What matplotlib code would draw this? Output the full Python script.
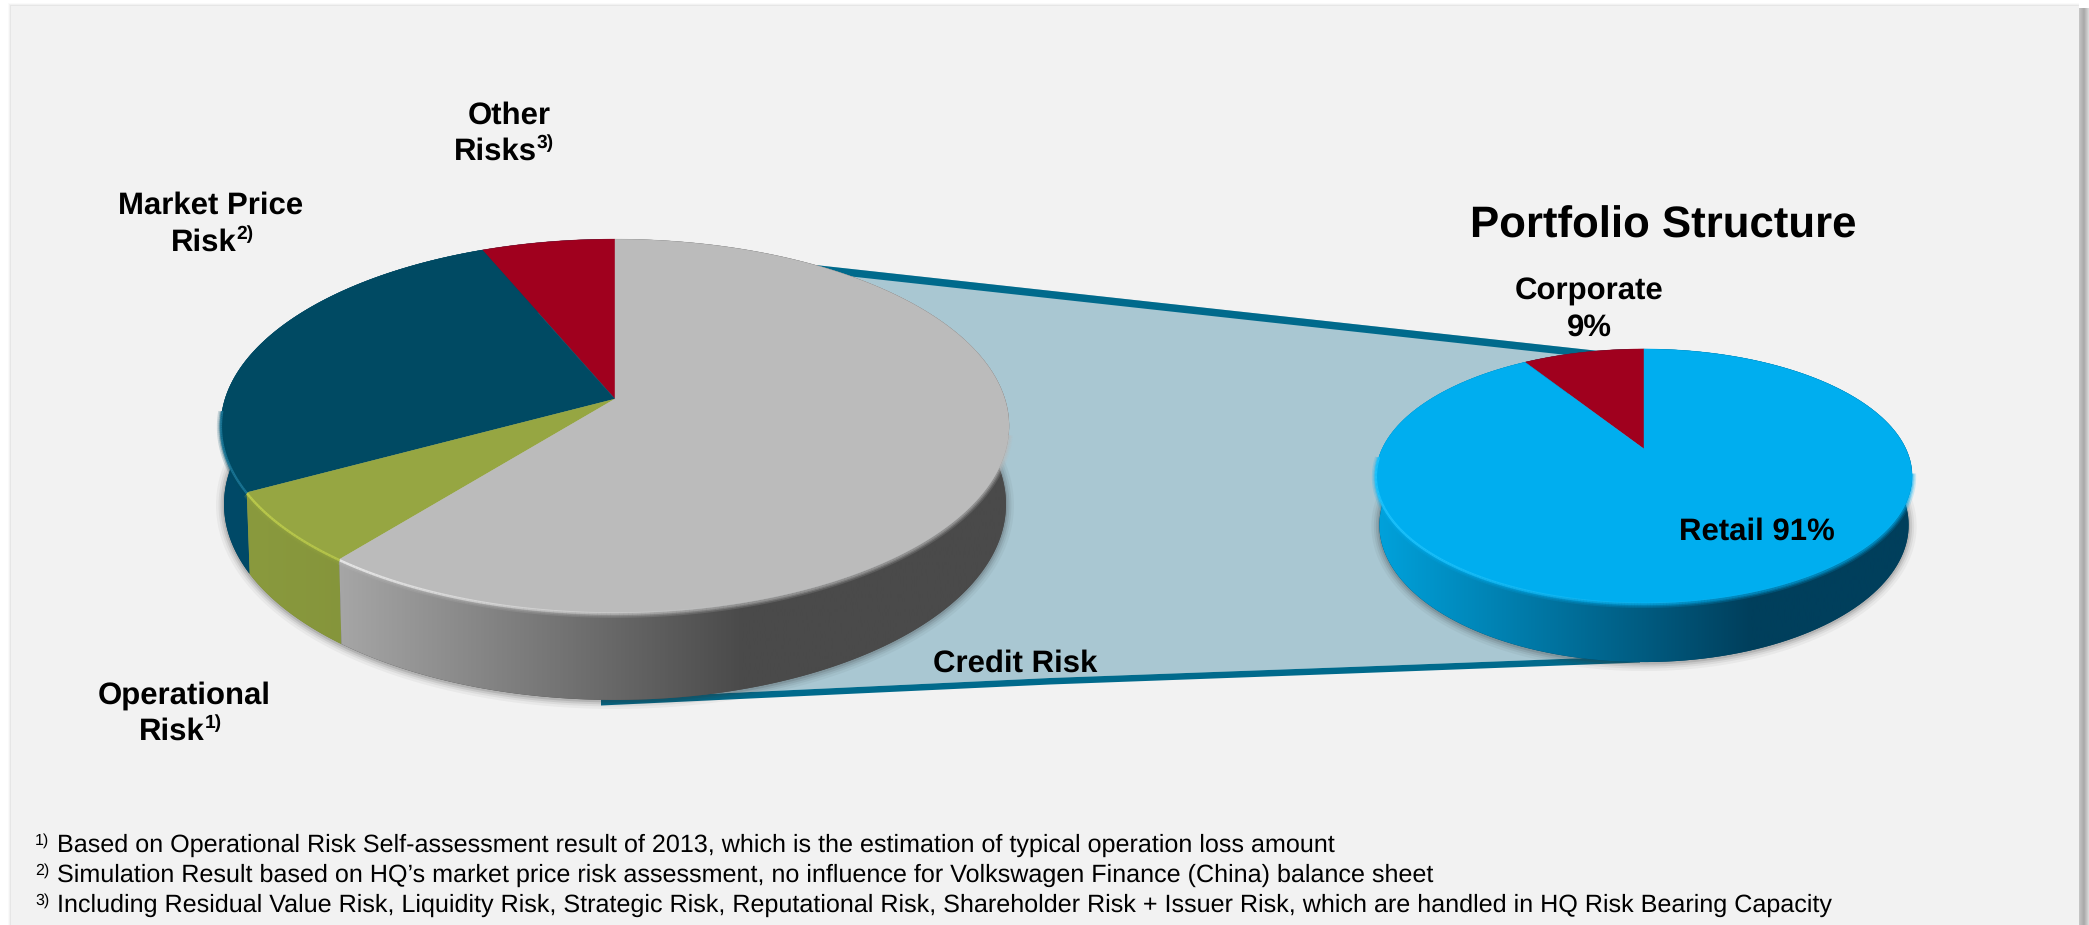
import numpy as np
import matplotlib
matplotlib.use('Agg')
import matplotlib.pyplot as plt
from matplotlib.collections import LineCollection
from matplotlib.colors import LinearSegmentedColormap, to_rgb
from matplotlib.patches import Polygon, Rectangle

plt.rcParams['font.family'] = ['Liberation Sans', 'DejaVu Sans']
plt.rcParams['text.hinting'] = 'none'

# values, share of the pie
# slices start at 12 o'clock and run counter clockwise
risk_names = ['Other Risks', 'Market Price Risk', 'Operational Risk', 'Credit Risk']
risk_shares = [6.3, 26.6, 6.3, 60.8]
risk_top = ['#A0001E', '#004A63', '#96A642', '#BBBBBB']
risk_side = [['#003F5A', '#003F5A'], ['#004A68', '#003A55'], ['#8A9A3E', '#748231'],
             ['#A6A6A6', '#4A4A4A']]

port_names = ['Corporate', 'Retail']
port_shares = [9, 91]
port_top = ['#A0001E', '#00AEEF']
port_side = [['#003F5A', '#003F5A'], ['#00A2DC', '#003F5C']]

footnotes = ['Based on Operational Risk Self-assessment result of 2013, which is the estimation of typical operation loss amount',
             'Simulation Result based on HQ\u2019s market price risk assessment, no influence for Volkswagen Finance (China) balance sheet',
             'Including Residual Value Risk, Liquidity Risk, Strategic Risk, Reputational Risk, Shareholder Risk + Issuer Risk, which are handled in HQ Risk Bearing Capacity']

W, H = 2089, 925
BG = '#F2F2F2'

fig = plt.figure(figsize=(W/100, H/100), dpi=100, facecolor='white')
ax = fig.add_axes([0, 0, 1, 1])
ax.axis('off')

# grey panel with soft edge, it stops short of the right side
for i, a in enumerate([0.04, 0.06, 0.10]):
    ax.add_patch(Rectangle((8+i, 3+i), 2079-8-i, H, fc='#808080', ec='none', alpha=a, zorder=0))
ax.add_patch(Rectangle((11, 6), 2079-11, H, fc=BG, ec='none', zorder=0.5))
# shadow strip on the right edge
strip = LinearSegmentedColormap.from_list('strip', ['#C4C4C4', '#A8A8A8', '#D8D8D8'])
ax.imshow(np.linspace(0, 1, 10)[None, :], extent=[2079, W, H, 8], cmap=strip, aspect='auto', zorder=0.4)


def rim(frac, cx, cy, rx0, ry0, k, sx=1.0, sy=1.0, dy=0.0):
    # circle seen in perspective, frac 0 is 12 o'clock, going counter clockwise
    t = 2*np.pi*np.asarray(frac)
    u = -np.sin(t)
    v = np.cos(t)
    w = 1 + k*v
    return cx + sx*rx0*u/w, cy + dy - sy*ry0*v/w


def rim_band(x, y, colors, alphas, lw, zorder, shift=0):
    # stroke along the rim, colour and alpha per segment
    pts = np.c_[x, y+shift]
    segs = np.stack([pts[:-1], pts[1:]], axis=1)
    rgba = [(*to_rgb(c), a) for c, a in zip(colors, alphas)]
    ax.add_collection(LineCollection(segs, colors=rgba, linewidths=lw*0.72, capstyle='butt', zorder=zorder))


def pie3d(shares, top_cols, side_cols, cx, cy, rx0, ry0, k, sx, sy, dy, hi_col, stop):
    edges = np.cumsum([0] + list(shares))/np.sum(shares)

    # blurred shadow around the front of the drum
    f = np.linspace(0.2, 0.8, 241)
    bx, by = rim(f, cx, cy, rx0, ry0, k, sx, sy, dy)
    for lw, a in [(16, 0.05), (11, 0.07), (7, 0.10), (3, 0.14)]:
        ax.plot(bx, by+1, color='#303030', lw=lw*0.72, alpha=a, zorder=3, solid_capstyle='butt')

    # drum side, gradient runs left to right
    x1 = cx+rx0*1.02
    for i in range(len(shares)):
        f = np.linspace(edges[i], edges[i+1], 200)
        tx, ty = rim(f, cx, cy, rx0, ry0, k)
        lx, ly = rim(f, cx, cy, rx0, ry0, k, sx, sy, dy)
        poly = Polygon(np.r_[np.c_[tx, ty], np.c_[lx, ly][::-1]], closed=True,
                       fc=side_cols[i][1], ec='none', zorder=4)
        ax.add_patch(poly)
        cmap = LinearSegmentedColormap.from_list('side', [(0, side_cols[i][0]), (stop, side_cols[i][1]),
                                                          (1, side_cols[i][1])], N=256)
        grad = np.linspace(0, 1, 512)[None, :]
        im = ax.imshow(grad, extent=[tx.min(), x1, H, 0], cmap=cmap, aspect='auto', zorder=4.1,
                       interpolation='bilinear')
        im.set_clip_path(poly)

    # top face
    for i in range(len(shares)):
        f = np.linspace(edges[i], edges[i+1], 200)
        tx, ty = rim(f, cx, cy, rx0, ry0, k)
        ax.add_patch(Polygon(np.r_[[[cx, cy]], np.c_[tx, ty]], closed=True, fc=top_cols[i],
                             ec=top_cols[i], lw=0.3, zorder=5))

    # soft bevel on the front rim: top colour melts into the side, bright on the left
    f = np.linspace(0.26, 0.72, 300)
    rx, ry = rim(f, cx, cy, rx0, ry0, k)
    p = (rx[:-1]-rx.min())/(rx.max()-rx.min())
    s = np.clip(np.searchsorted(edges, f[:-1]) - 1, 0, len(shares)-1)
    tops = [top_cols[j] for j in s]
    for lw, a in [(8, 0.18), (5, 0.28), (2.5, 0.4)]:
        rim_band(rx, ry, tops, np.full(len(p), a), lw, 4.6, shift=1)
    lights = [hi_col[j] for j in s]
    rim_band(rx, ry, lights, np.clip(0.85-1.3*p, 0, 1), 2.4, 6, shift=0.5)


# connector between the pies, sits behind both
top_line_x = [815, 1599]
top_line_y = [265, 351]
low_line_x = [601, 1050, 1350, 1640]
low_line_y = [699, 678, 667, 656]
ax.add_patch(Polygon(np.c_[top_line_x + low_line_x[::-1], top_line_y + low_line_y[::-1]], closed=True,
                     fc='#A9C7D2', ec='none', zorder=1))
ax.add_patch(Polygon(np.r_[np.c_[top_line_x, top_line_y], np.c_[top_line_x, np.add(top_line_y, 7.5)][::-1]],
                     closed=True, fc='#006A8C', ec='none', zorder=2))
ax.add_patch(Polygon(np.r_[np.c_[low_line_x, low_line_y], np.c_[low_line_x, np.add(low_line_y, 6.5)][::-1]],
                     closed=True, fc='#006A8C', ec='none', zorder=2))

pie3d(risk_shares, risk_top, risk_side, 615, 399, 390, 183, 0.1444, 0.992, 1.047, 77,
      ['#004A63', '#1E7B9C', '#C4D34E', '#FFFFFF'], 0.6)
pie3d(port_shares, port_top, port_side, 1644, 449, 262, 121.3, 0.2126, 0.987, 1.078, 47,
      ['#A0001E', '#22C6FF'], 0.7)

ax.set_xlim(0, W)
ax.set_ylim(H, 0)

rend = fig.canvas.get_renderer()


def sup_text(x, y, base, sup, size):
    # base text followed by small raised text, x is centre of the whole
    t1 = ax.text(x, y, base, fontsize=size, fontweight='bold', va='center', ha='left', zorder=10)
    t2 = ax.text(x, y-size*0.38, sup, fontsize=size*0.62, fontweight='bold', va='center', ha='left', zorder=10)
    w1 = t1.get_window_extent(rend).width
    w2 = t2.get_window_extent(rend).width
    left = x-(w1+w2)/2
    t1.set_x(left)
    t2.set_x(left+w1)


bold = dict(fontsize=22.4, fontweight='bold', ha='center', va='center', zorder=10)
ax.text(509, 116, 'Other', **bold)
sup_text(504, 152, 'Risks', '3)', 22.4)
ax.text(211, 206, 'Market Price', **bold)
sup_text(212, 243, 'Risk', '2)', 22.4)
ax.text(184, 696, 'Operational', **bold)
sup_text(180, 732, 'Risk', '1)', 22.4)
ax.text(1015, 664, risk_names[3], **bold)

ax.text(1663, 226, 'Portfolio Structure', fontsize=31.5, fontweight='bold', ha='center', va='center', zorder=10)
ax.text(1589, 292, port_names[0], **bold)
ax.text(1589, 328, '%d%%' % port_shares[0], **bold)
ax.text(1757, 532, '%s %d%%' % (port_names[1], port_shares[1]), **bold)

for i, line in enumerate(footnotes):
    y = 845 + 30*i
    ax.text(35, y-4, '%d)' % (i+1), fontsize=11.5, va='center', ha='left', zorder=10)
    ax.text(57, y, line, fontsize=18.08, va='center', ha='left', zorder=10)

fig.savefig('out.png', dpi=100, facecolor='white')
